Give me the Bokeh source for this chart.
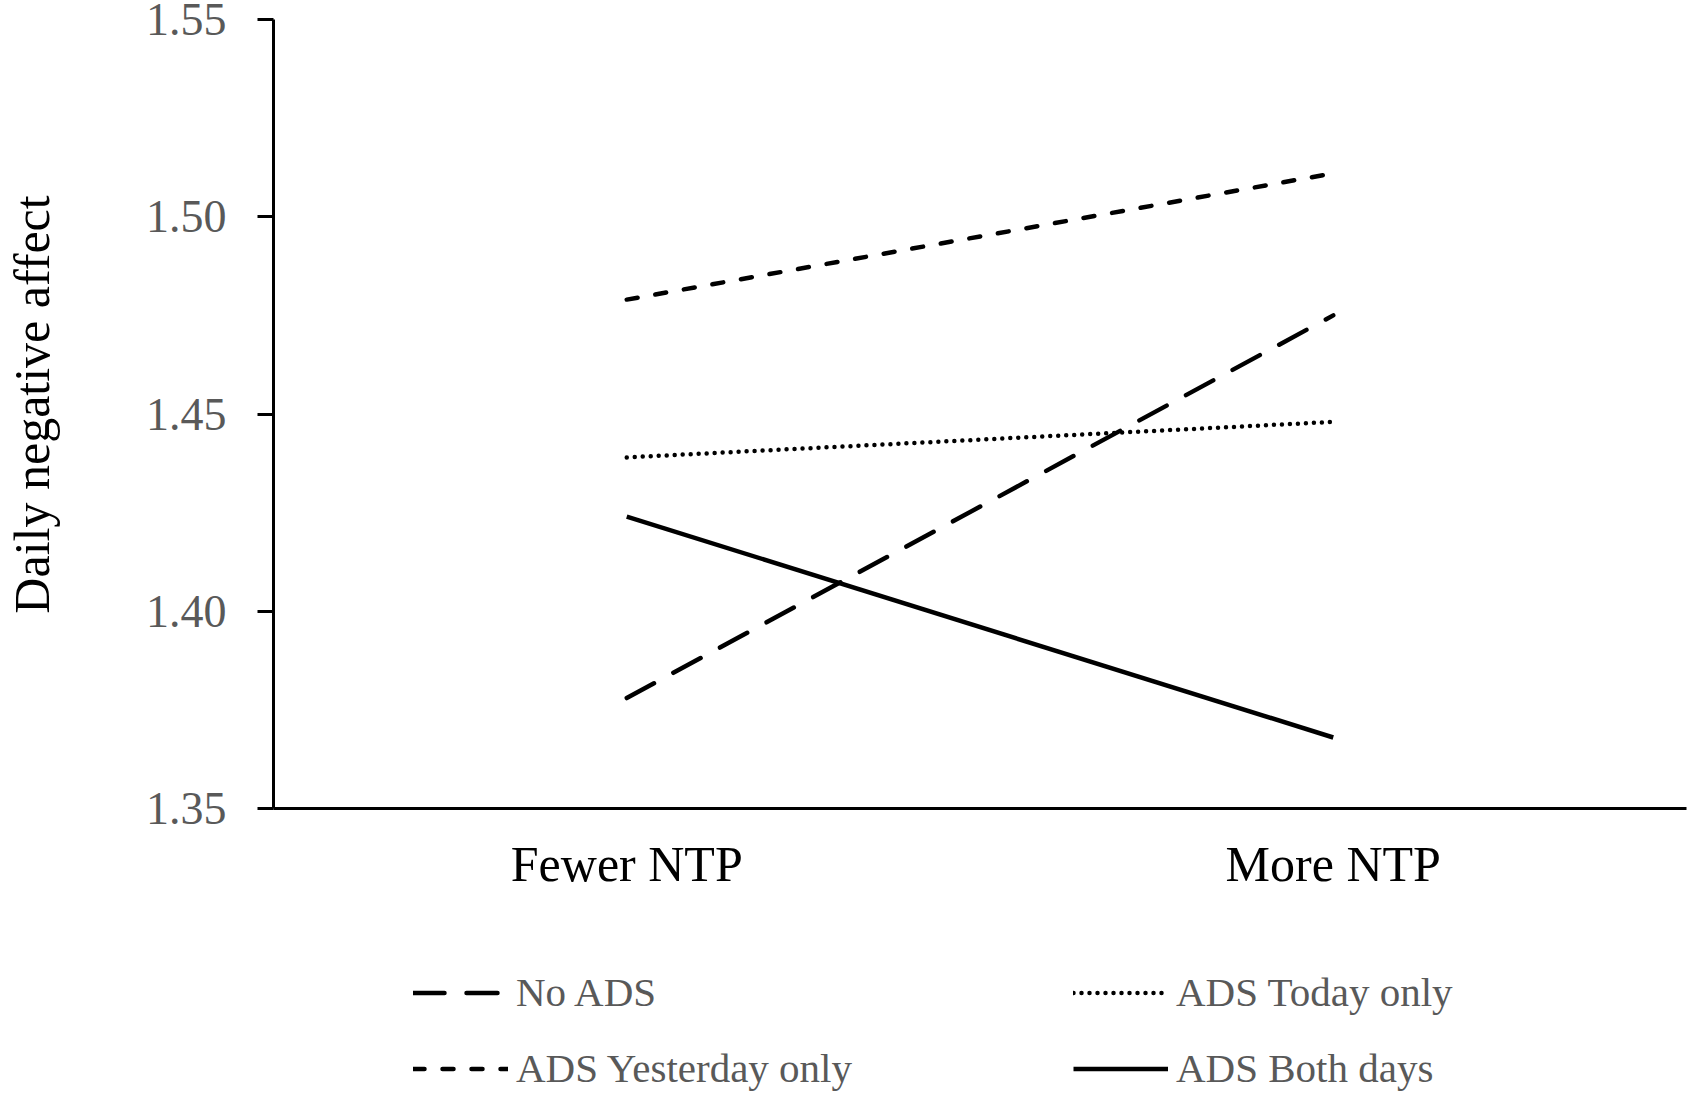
from bokeh.plotting import figure
from bokeh.layouts import column
from bokeh.models import FactorRange, Range1d, FixedTicker, Legend, LegendItem, NumeralTickFormatter
from bokeh.embed import file_html
from bokeh.resources import INLINE

categories = ["Fewer NTP", "More NTP"]
no_ads = [1.378, 1.475]
ads_yesterday_only = [1.479, 1.511]
ads_today_only = [1.439, 1.448]
ads_both_days = [1.424, 1.368]
y_ticks = [1.35, 1.40, 1.45, 1.50, 1.55]
series_names = ["No ADS", "ADS Yesterday only", "ADS Today only", "ADS Both days"]

FONT = "Liberation Serif"

styles = [
    dict(line_color="black", line_width=4.5, line_dash="31 22", line_cap="round"),
    dict(line_color="black", line_width=4.5, line_dash="11 18", line_cap="round"),
    dict(line_color="black", line_width=4.5, line_dash="0 8", line_cap="round"),
    dict(line_color="black", line_width=4.5),
]
series = [no_ads, ads_yesterday_only, ads_today_only, ads_both_days]

# ---- main chart ----
# plot area spans 1.35..1.55 over 789 px; a 19 px head-room strip sits above 1.55
y_lo, y_hi = y_ticks[0], y_ticks[-1]
head = (y_hi - y_lo) * 19 / 789
p = figure(width=1688, height=920, output_backend="svg", toolbar_location=None,
           x_range=FactorRange(*categories),
           y_range=Range1d(y_lo, y_hi + head),
           min_border_left=272, min_border_right=2, min_border_top=0, min_border_bottom=112)
p.outline_line_color = None
p.grid.grid_line_color = None

for vals, st in zip(series, styles):
    p.line(categories, vals, **st)

ya = p.yaxis[0]
ya.bounds = (y_lo, y_hi)
ya.ticker = FixedTicker(ticks=y_ticks)
ya.formatter = NumeralTickFormatter(format="0.00")
ya.axis_line_color = "black"
ya.axis_line_width = 3
ya.major_tick_line_color = "black"
ya.major_tick_line_width = 3
ya.major_tick_out = 16
ya.major_tick_in = 0
ya.minor_tick_line_color = None
ya.major_label_text_font = FONT
ya.major_label_text_font_size = "46px"
ya.major_label_text_color = "#595959"
ya.major_label_standoff = 31
ya.axis_label = "Daily negative affect"
ya.axis_label_text_font = FONT
ya.axis_label_text_font_size = "50px"
ya.axis_label_text_font_style = "normal"
ya.axis_label_text_color = "black"
ya.axis_label_standoff = 83

xa = p.xaxis[0]
xa.axis_line_color = "black"
xa.axis_line_width = 3
xa.major_tick_line_color = None
xa.major_tick_out = 0
xa.major_tick_in = 0
xa.minor_tick_line_color = None
xa.major_label_text_font = FONT
xa.major_label_text_font_size = "50px"
xa.major_label_text_color = "black"
xa.major_label_standoff = 27

# ---- legend strip (its lines lie outside its own range, only the key shows) ----
pl = figure(width=1688, height=174, output_backend="svg", toolbar_location=None,
            x_range=FactorRange(*categories), y_range=Range1d(0, 1),
            x_axis_location=None, y_axis_location=None,
            min_border_left=0, min_border_right=0, min_border_top=0, min_border_bottom=0)
pl.outline_line_color = None
pl.grid.grid_line_color = None
rs = [pl.line(categories, vals, **st) for vals, st in zip(series, styles)]

legend = Legend(items=[
    LegendItem(label=series_names[0], renderers=[rs[0]]),
    LegendItem(label=series_names[1], renderers=[rs[1]]),
    LegendItem(label=series_names[2], renderers=[rs[2]]),
    LegendItem(label=series_names[3], renderers=[rs[3]]),
], ncols=2, orientation="vertical", location=(140, 2),
   padding=0, margin=0, spacing=28, glyph_width=95, glyph_height=45,
   label_height=45, label_width=529, label_standoff=8,
   label_text_font=FONT, label_text_font_size="41px", label_text_color="#595959",
   border_line_color=None, background_fill_alpha=0)
pl.add_layout(legend, "center")

layout = column(p, pl)
open("out.html", "w").write(file_html(layout, INLINE))
